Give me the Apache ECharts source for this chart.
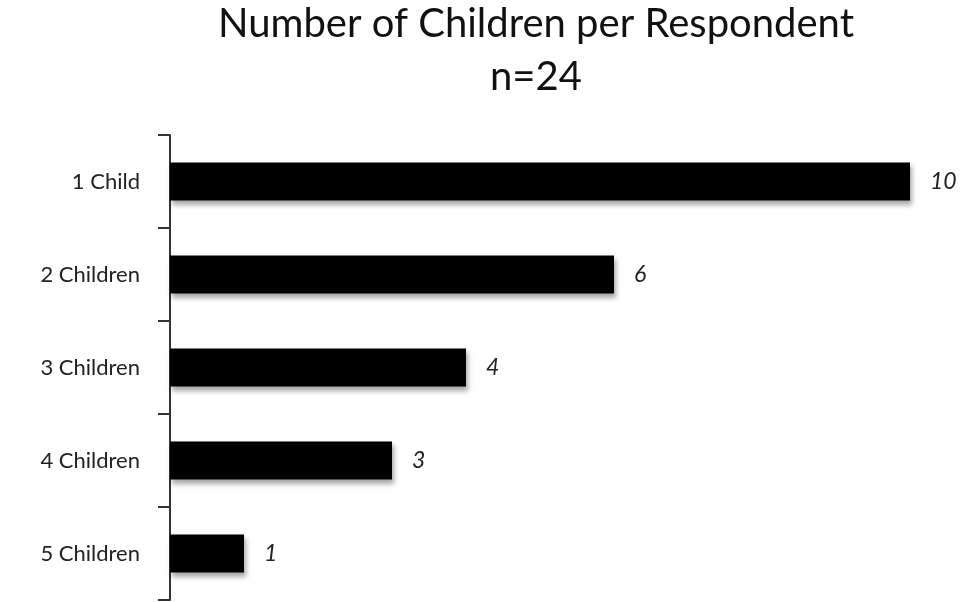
<!DOCTYPE html>
<html><head><meta charset="utf-8">
<script src="https://cdn.jsdelivr.net/npm/echarts@6/dist/echarts.min.js"></script>
<style>html,body{margin:0;padding:0;background:#fff}#c{width:966px;height:602px}</style>
</head><body><div id="c"></div>
<script>
const categories = ['1 Child', '2 Children', '3 Children', '4 Children', '5 Children'];
const values = [10, 6, 4, 3, 1];
const titleText = 'Number of Children per Respondent\nn=24';

const chart = echarts.init(document.getElementById('c'));
chart.setOption({
  animation: false,
  backgroundColor: '#fff',
  title: {
    text: titleText,
    left: 536,
    top: -2,
    padding: 0,
    textAlign: 'center',
    textStyle: { fontFamily: 'Lato', fontWeight: 'normal', fontSize: 40, color: '#111', lineHeight: 53 }
  },
  grid: { left: 170, right: 56, top: 135, bottom: 2, containLabel: false },
  xAxis: { type: 'value', min: 0, max: 10, show: false },
  yAxis: {
    type: 'category', data: categories, inverse: true,
    axisLine: { show: true, lineStyle: { color: '#333', width: 2 } },
    axisTick: { show: true, length: 12, lineStyle: { color: '#333', width: 2 } },
    axisLabel: { margin: 30, fontFamily: 'Lato', fontSize: 22, color: '#222' }
  },
  series: [{
    type: 'bar', data: values, barCategoryGap: '59%',
    itemStyle: { color: '#000', shadowColor: 'rgba(0,0,0,0.35)', shadowBlur: 5, shadowOffsetX: 2, shadowOffsetY: 4 },
    label: { show: true, position: 'right', distance: 20, fontFamily: 'Lato', fontStyle: 'italic', fontSize: 23, color: '#222' }
  }]
});
</script></body></html>
